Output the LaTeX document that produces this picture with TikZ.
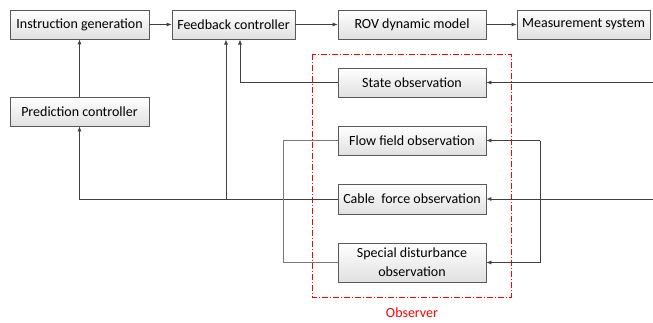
\documentclass[tikz,border=0pt]{standalone}
\usepackage{fontspec}
\setmainfont{Carlito}
\usetikzlibrary{arrows.meta}
\definecolor{lineg}{HTML}{404040}
\definecolor{brackg}{HTML}{7A7A7A}
\definecolor{boxb}{HTML}{5A5A5A}
\begin{document}
\begin{tikzpicture}[x=1pt,y=-1pt,
  blk/.style={draw=boxb, line width=0.7pt, top color=white, bottom color=black!12,
    inner sep=0pt, minimum height=29pt, font=\fontsize{14}{19}\selectfont, align=center},
  conn/.style={draw=lineg, line width=0.8pt},
  arr/.style={conn, -{Latex[length=5pt,width=4pt]}},
  brk/.style={draw=brackg, line width=1pt},
  obs/.style={draw=red, line width=0.7pt, dash pattern=on 6pt off 2pt on 1pt off 2pt}
]
\useasboundingbox (0,0) rectangle (653,322);
% nodes
\node[blk, minimum width=139pt] (ins) at (79.5,24.5) {Instruction generation};
\node[blk, minimum width=123pt] (fb) at (233.5,24.5) {Feedback controller};
\node[blk, minimum width=148pt] (rov) at (412,24.5) {ROV dynamic model};
\node[blk, minimum width=133pt] (meas) at (583.5,24.5) {Measurement system};
\node[blk, minimum width=139pt] (pred) at (79.5,111.5) {Prediction controller};
\node[blk, minimum width=148pt] (state) at (412,82.5) {State observation};
\node[blk, minimum width=148pt] (flow) at (412,140.5) {Flow field observation};
\node[blk, minimum width=148pt, minimum height=30pt] (cable) at (412,199) {Cable\ \ force observation};
\node[blk, minimum width=148pt, minimum height=39pt] (spec) at (412,262.5) {Special disturbance\\observation};
% observer frame
\draw[obs] (312,54) rectangle (511,297);
\node[text=red, font=\fontsize{14}{15}\selectfont] (obslbl) at (412,313) {Observer};
% free ends
\coordinate (sin) at (653,82.5);
\coordinate (cin) at (653,199);
% top chain
\draw[arr] (ins) -- (fb);
\draw[arr] (fb) -- (rov);
\draw[arr] (rov) -- (meas);
\draw[arr] (pred.north) -- (ins.south);
% state
\draw[arr] (sin) -- (state.east);
\draw[arr] (state.west) -- (240,82.5) -- (240,39.5);
% cable
\draw[arr] (cin) -- (cable.east);
\draw[arr] (cable.west) -- (79.5,199) -- (pred.south);
\draw[arr] (226,199) -- (226,39.5);
% brackets
\draw[brk] (flow.west) -- (283,140.5) -- (283,262.5) -- (spec.west);
\draw[conn] (540,140.5) -- (540,262.5);
\draw[arr] (540,140.5) -- (flow.east);
\draw[arr] (540,262.5) -- (spec.east);
\end{tikzpicture}
\end{document}
